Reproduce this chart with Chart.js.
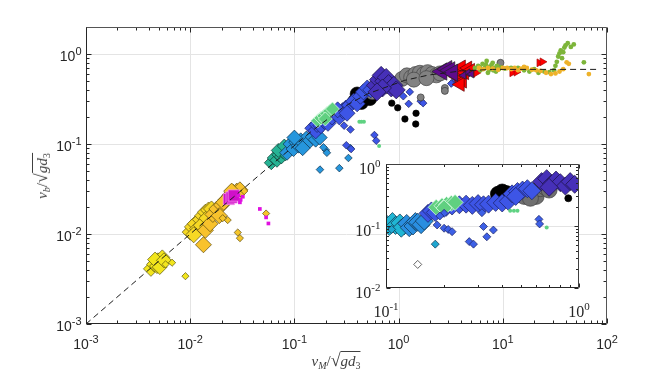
<!DOCTYPE html>
<html>
<head>
<meta charset="utf-8">
<script src="https://cdn.jsdelivr.net/npm/chart.js@4.4.1/dist/chart.umd.min.js"></script>
<style>
  body { margin: 0; background: #fff; }
  #wrap { position: relative; width: 664px; height: 374px; overflow: hidden; }
  #mainChart { position: absolute; left: 0; top: 0; }
  #insetChart { position: absolute; left: 330px; top: 150px; }
  .axlab { position: absolute; font-family: "Liberation Serif", serif; font-size: 15px; color: #404040; white-space: nowrap; line-height: 1; }
  .axlab sub { font-size: 10px; vertical-align: -3px; line-height: 0; }
  .sq { font-size: 18px; font-style: normal; }
  .ov { border-top: 1px solid #404040; padding-top: 2px; display: inline-block; line-height: 1; }
  #xlab { left: 336px; top: 360px; transform: translate(-50%, -50%); }
  #ylab { left: 41px; top: 176px; transform: translate(-50%, -50%) rotate(-90deg); }
</style>
</head>
<body>
<div id="wrap">
  <canvas id="mainChart" width="664" height="374"></canvas>
  <canvas id="insetChart" width="270" height="180"></canvas>
  <div id="xlab" class="axlab"><i>v</i><sub><i>M</i></sub>/<span class="sq">√</span><span class="ov"><i>gd</i><sub>3</sub></span></div>
  <div id="ylab" class="axlab"><i>v</i><sub><i>b</i></sub>/<span class="sq">√</span><span class="ov"><i>gd</i><sub>3</sub></span></div>
</div>
<script>
// ---- main plot data (x = vM/sqrt(g d3), y = vb/sqrt(g d3)) ----
const curveX = [0.001, 0.01, 0.05, 0.144, 0.3, 0.5, 1.14, 1.94, 4, 8, 80];
const curveY = [0.001, 0.01, 0.049, 0.137, 0.26, 0.36, 0.51, 0.585, 0.65, 0.676, 0.676];

const yellowBig = [[0.0042,0.0041],[0.0045,0.0046],[0.0048,0.0044],[0.0049,0.0051],[0.0052,0.0049],[0.0054,0.0055],[0.0046,0.0052],[0.0051,0.0043],[0.0056,0.0051]];
const yellowSmall = [[0.0067,0.0048],[0.0090,0.0034],[0.0058,0.0046]];
const lemonBig = [[0.0100,0.0105],[0.0105,0.0120],[0.0112,0.0130],[0.0118,0.0115],[0.0125,0.0145],[0.0132,0.0160],[0.0140,0.0175],[0.0150,0.0185],[0.0108,0.0098],[0.0128,0.0125],[0.0145,0.0150],[0.0160,0.0190]];
const goldBig = [[0.0134,0.0076],[0.0140,0.0110],[0.0155,0.0130],[0.0165,0.0165],[0.0180,0.0190],[0.0200,0.0210],[0.0220,0.0240],[0.0240,0.0270],[0.0260,0.0290],[0.0280,0.0300],[0.0300,0.0310],[0.0250,0.0300],[0.0190,0.0160],[0.0210,0.0225]];
const goldSmall = [[0.0229,0.0143],[0.0286,0.0104],[0.0300,0.0090],[0.0535,0.0169],[0.0205,0.0150],[0.0310,0.0280],[0.0330,0.0300]];
const magentaBig = [[0.0235,0.0245],[0.0250,0.0255],[0.0262,0.0268]];
const magentaSmall = [[0.0290,0.0270],[0.0305,0.0240],[0.0320,0.0260],[0.0466,0.0190],[0.0535,0.0153],[0.0563,0.0131],[0.0300,0.0225]];
const tealBig = [[0.060,0.062],[0.064,0.070],[0.068,0.066],[0.071,0.076],[0.075,0.072],[0.078,0.082],[0.082,0.078],[0.086,0.088],[0.090,0.095],[0.094,0.090],[0.070,0.085],[0.080,0.095]];
const cyanBig = [[0.085,0.080],[0.092,0.100],[0.098,0.088],[0.104,0.105],[0.110,0.096],[0.115,0.110],[0.122,0.102],[0.130,0.115],[0.140,0.108],[0.150,0.120],[0.160,0.112],[0.100,0.118],[0.120,0.090],[0.175,0.118]];
const cyanSmall = [[0.176,0.052],[0.200,0.086],[0.205,0.080],[0.270,0.054],[0.330,0.070],[0.345,0.090],[0.190,0.092]];
const greenBig = [[0.168,0.182],[0.180,0.195],[0.192,0.205],[0.205,0.218],[0.218,0.232],[0.232,0.245],[0.198,0.190]];
const greenSmall = [[0.420,0.177],[0.440,0.177],[0.465,0.177],[0.650,0.095]];
const blueBig = [[0.150,0.150],[0.160,0.140],[0.165,0.165],[0.180,0.160],[0.195,0.178],[0.210,0.170],[0.230,0.200],[0.250,0.215],[0.270,0.200],[0.290,0.235],[0.310,0.250],[0.340,0.270],[0.370,0.300],[0.400,0.280],[0.430,0.340],[0.460,0.380],[0.500,0.420],[0.540,0.400],[0.260,0.240],[0.320,0.220]];
const blueSmall = [[0.300,0.160],[0.315,0.097],[0.350,0.088],[0.586,0.126],[0.610,0.109],[1.11,0.34],[1.28,0.38],[1.25,0.28],[1.63,0.30],[1.72,0.285],[3.2,0.47],[3.5,0.52],[0.345,0.145]];
const blackBig = [[0.380,0.300],[0.420,0.330],[0.460,0.350],[0.500,0.370],[0.440,0.290],[0.530,0.320],[0.400,0.360]];
const blackSmall = [[0.86,0.285],[0.98,0.253],[1.15,0.190],[1.47,0.220],[1.46,0.167]];
const indigoBig = [[0.600,0.450],[0.640,0.520],[0.680,0.580],[0.720,0.500],[0.760,0.550],[0.800,0.470],[0.850,0.420],[0.900,0.450],[0.950,0.400],[0.700,0.420],[0.620,0.380]];
const grayBig = [[0.560,0.380],[0.660,0.420],[0.760,0.440],[1.08,0.530],[1.20,0.580],[1.32,0.550],[1.45,0.600],[1.60,0.620],[1.75,0.600],[1.90,0.630],[2.10,0.600],[2.30,0.580],[2.50,0.610],[1.40,0.520],[1.85,0.540]];
const graySmall = [[2.78,0.42],[2.78,0.39],[1.63,0.33],[9.5,0.80],[3.9,0.56]];
const purpleTri = [[2.60,0.640],[2.90,0.680],[3.10,0.660],[3.30,0.620]];
const purpleSmall = [[4.6,0.62],[5.0,0.60],[4.2,0.58]];
const redTri = [[3.60,0.560],[3.80,0.640],[4.00,0.720],[4.30,0.620],[4.60,0.700],[4.10,0.500],[4.90,0.660],[3.90,0.460]];
const redSmall = [[5.6,0.62],[12.3,0.62],[13.5,0.63],[22.4,0.80],[24.0,0.82]];
const greenDots = [[5.4,0.70],[5.8,0.74],[6.1,0.66],[6.4,0.78],[6.7,0.70],[7.0,0.84],[7.2,0.62],[7.5,0.72],[7.8,0.76],[8.1,0.66],[8.4,0.70],[8.8,0.74],[9.2,0.68],[9.6,0.71],[6.0,0.72],[6.9,0.76],[7.4,0.67],[8.0,0.80],[8.6,0.64],[10.5,0.69],[12,0.70],[14,0.70],[16,0.66],[18,0.64],[20,0.68],[22,0.62],[25,0.64],[28,0.63],[31,0.66],[32,0.74],[33,0.82],[34,0.94],[35,1.02],[36,1.10],[38,1.05],[39,1.18],[40,1.25],[42,1.32],[45,1.20],[48,1.28],[37,0.90],[60,0.81]];
const goldDots = [[5.9,0.70],[6.5,0.68],[7.2,0.70],[8,0.69],[9,0.67],[10,0.70],[11,0.70],[12,0.68],[13,0.70],[15,0.69],[17,0.70],[19,0.67],[21,0.66],[23,0.65],[26,0.62],[29,0.60],[32,0.61],[35,0.64],[38,0.68],[41,0.81],[43,0.78],[67,0.60],[14,0.66],[16,0.72]];

// ---- inset data (zoom on 0.1 < x < 1) ----
const insetCyan = [[0.100,0.110],[0.104,0.098],[0.108,0.118],[0.112,0.102],[0.118,0.112],[0.124,0.100],[0.120,0.092]];
const insetAzure = [[0.128,0.110],[0.132,0.094],[0.138,0.100],[0.142,0.118],[0.146,0.115],[0.152,0.105],[0.158,0.120]];
const insetBlue = [[0.165,0.160],[0.172,0.175],[0.180,0.165],[0.205,0.200],[0.220,0.210],[0.240,0.220],[0.260,0.225],[0.280,0.215],[0.300,0.230],[0.320,0.220],[0.340,0.225],[0.370,0.240],[0.400,0.235],[0.430,0.250],[0.450,0.330],[0.480,0.360],[0.510,0.380],[0.540,0.400],[0.570,0.370],[0.470,0.300]];
const insetIndigo = [[0.640,0.520],[0.680,0.580],[0.720,0.480],[0.760,0.550],[0.800,0.500],[0.850,0.440],[0.900,0.520],[0.950,0.470],[0.700,0.420]];
const insetGray = [[0.490,0.320],[0.520,0.300],[0.550,0.340],[0.580,0.360],[0.600,0.300],[0.630,0.400],[0.670,0.420],[0.700,0.380],[0.560,0.280]];
const insetBlack = [[0.380,0.330],[0.400,0.360],[0.420,0.340],[0.440,0.310]];
const insetBlackSmall = [[0.880,0.280]];
const insetGreen = [[0.182,0.200],[0.195,0.212],[0.206,0.222],[0.218,0.232],[0.228,0.240],[0.200,0.195]];
const insetGreenSmall = [[0.440,0.176],[0.460,0.176],[0.480,0.176],[0.680,0.095]];
const insetBlueSmall = [[0.184,0.104],[0.200,0.092],[0.210,0.088],[0.220,0.081],[0.270,0.056],[0.284,0.051],[0.314,0.164],[0.320,0.098],[0.360,0.086],[0.333,0.067],[0.620,0.128],[0.625,0.108],[0.200,0.160],[0.190,0.145]];
const insetCyanSmall = [[0.180,0.051],[0.107,0.088]];
const insetHollow = [[0.146,0.024]];

const mainXRange = [0.001, 100], mainYRange = [0.001, 2];
const insetXRange = [0.1, 1], insetYRange = [0.01, 1];

const pts = arr => arr.map(p => ({ x: p[0], y: p[1] }));

function series(arr, style, r, fill, edge, extra) {
  return Object.assign({
    data: pts(arr), pointStyle: style, pointRadius: r, pointHoverRadius: r,
    backgroundColor: fill, borderColor: edge || '#222', borderWidth: 0.7
  }, extra || {});
}

function logTicks(min, max) {
  const out = [];
  for (let d = Math.floor(Math.log10(min)); d <= Math.ceil(Math.log10(max)); d++) {
    for (let m = 1; m <= 9; m++) {
      const v = m * Math.pow(10, d);
      if (v >= min * 0.9999 && v <= max * 1.0001) out.push({ v, major: m === 1, exp: d });
    }
  }
  return out;
}

function powLabel(ctx, exp, px, py, align, f) {
  const base = '10', sup = String(exp);
  ctx.font = f.base; const wb = ctx.measureText(base).width;
  ctx.font = f.sup; const ws = ctx.measureText(sup).width;
  const x0 = align === 'right' ? px - wb - ws : px - (wb + ws) / 2;
  ctx.textAlign = 'left';
  ctx.textBaseline = 'alphabetic';
  ctx.fillStyle = f.color;
  ctx.font = f.base; ctx.fillText(base, x0, py);
  ctx.font = f.sup; ctx.fillText(sup, x0 + wb, py - f.raise);
}

// grid, inward log ticks, box and 10^n labels in MATLAB style
function axesPlugin(o) {
  return {
    id: 'axesDeco',
    beforeDatasetsDraw(chart) {
      const { ctx, chartArea: a, scales: { x, y } } = chart;
      ctx.save();
      if (o.fill) { ctx.fillStyle = '#fff'; ctx.fillRect(a.left, a.top, a.right - a.left, a.bottom - a.top); }
      ctx.strokeStyle = '#e4e4e4';
      ctx.lineWidth = 1;
      ctx.beginPath();
      logTicks(x.min, x.max).filter(t => t.major).forEach(t => {
        const px = Math.round(x.getPixelForValue(t.v)) + 0.5;
        if (px > a.left + 2 && px < a.right - 2) { ctx.moveTo(px, a.top); ctx.lineTo(px, a.bottom); }
      });
      logTicks(y.min, y.max).filter(t => t.major).forEach(t => {
        const py = Math.round(y.getPixelForValue(t.v)) + 0.5;
        if (py > a.top + 2 && py < a.bottom - 2) { ctx.moveTo(a.left, py); ctx.lineTo(a.right, py); }
      });
      ctx.stroke();
      ctx.restore();
    },
    afterDatasetsDraw(chart) {
      const { ctx, chartArea: a, scales: { x, y } } = chart;
      const L = Math.round(a.left) + 0.5, R = Math.round(a.right) - 0.5;
      const T = Math.round(a.top) + 0.5, B = Math.round(a.bottom) - 0.5;
      ctx.save();
      ctx.lineWidth = 1;
      ctx.strokeStyle = o.tickColor;
      ctx.beginPath();
      logTicks(x.min, x.max).forEach(t => {
        const px = Math.round(x.getPixelForValue(t.v)) + 0.5;
        const len = t.major ? o.major : o.minor;
        ctx.moveTo(px, B); ctx.lineTo(px, B - len);
        ctx.moveTo(px, T); ctx.lineTo(px, T + len);
      });
      logTicks(y.min, y.max).forEach(t => {
        const py = Math.round(y.getPixelForValue(t.v)) + 0.5;
        const len = t.major ? o.major : o.minor;
        ctx.moveTo(L, py); ctx.lineTo(L + len, py);
        ctx.moveTo(R, py); ctx.lineTo(R - len, py);
      });
      ctx.stroke();
      ctx.beginPath();
      ctx.strokeStyle = o.boxFar;
      ctx.moveTo(L, T); ctx.lineTo(R, T); ctx.lineTo(R, B);
      ctx.stroke();
      ctx.beginPath();
      ctx.strokeStyle = o.boxNear;
      ctx.moveTo(L, T); ctx.lineTo(L, B); ctx.lineTo(R, B);
      ctx.stroke();
      logTicks(x.min, x.max).filter(t => t.major).forEach(t => {
        powLabel(ctx, t.exp, x.getPixelForValue(t.v) + o.xShift, B + o.xBase, 'center', o.font);
      });
      logTicks(y.min, y.max).filter(t => t.major).forEach(t => {
        powLabel(ctx, t.exp, L - o.yGap, y.getPixelForValue(t.v) + o.yBase, 'right', o.font);
      });
      ctx.restore();
    }
  };
}

function logScales(xr, yr) {
  return {
    x: { type: 'logarithmic', min: xr[0], max: xr[1], display: false },
    y: { type: 'logarithmic', min: yr[0], max: yr[1], display: false }
  };
}

const base = {
  responsive: false, animation: false, devicePixelRatio: 1,
  plugins: { legend: { display: false }, tooltip: { enabled: false } },
  events: []
};

const triLeft = { rotation: -90 };
const triRight = { rotation: 90 };

// first dataset in the list is painted last (on top)
new Chart(document.getElementById('mainChart'), {
  type: 'scatter',
  data: {
    datasets: [
      { data: curveX.map((v, i) => ({ x: v, y: curveY[i] })), showLine: true, borderColor: '#1a1a1a',
        borderWidth: 1, borderDash: [6, 4], pointRadius: 0, fill: false },
      series(goldDots, 'circle', 2.4, '#eeb22a', '#eeb22a', { borderWidth: 0 }),
      series(greenDots, 'circle', 2.4, '#7db53a', '#7db53a', { borderWidth: 0 }),
      series(redSmall, 'triangle', 4.5, '#ff0000', '#aa0000', triRight),
      series(purpleSmall, 'triangle', 4.5, '#5e0a8c', '#222', triLeft),
      series(purpleTri, 'triangle', 10, '#5e0a8c', '#222', triLeft),
      series(redTri, 'triangle', 8, '#ff0000', '#600000', triLeft),
      series(graySmall, 'circle', 3.5, '#808080', '#3a3a3a'),
      series(blackSmall, 'circle', 3.2, '#000', '#000'),
      series(blueSmall, 'rectRot', 3.8, '#3d55e6', '#1a2060'),
      series(greenSmall, 'circle', 2, '#5fd282', '#5fd282', { borderWidth: 0 }),
      series(greenBig, 'rectRot', 7, '#60d080', '#e8fff0'),
      series(indigoBig, 'rectRot', 9, '#4630b8', '#1a1040'),
      series(blueBig, 'rectRot', 8, '#3d55e6', '#1a2060'),
      series(grayBig, 'circle', 7.5, '#828282', '#454545'),
      series(blackBig, 'circle', 7, '#000', '#000'),
      series(cyanSmall, 'rectRot', 3.8, '#2696dd', '#10304a'),
      series(cyanBig, 'rectRot', 7.5, '#2696dd', '#10304a'),
      series(tealBig, 'rectRot', 7, '#26b394', '#103a30'),
      series(magentaSmall, 'rect', 2.6, '#e010e0', '#e010e0', { borderWidth: 0 }),
      series(magentaBig, 'rect', 8, '#d010c8', '#f8a0f0'),
      series(goldSmall, 'rectRot', 3.6, '#f5c52a', '#5a4a10'),
      series(goldBig, 'rectRot', 8, '#f8c22c', '#5a4a10'),
      series(lemonBig, 'rectRot', 8, '#f6d824', '#5a5010'),
      series(yellowSmall, 'rectRot', 3.6, '#f2e51c', '#5a5510'),
      series(yellowBig, 'rectRot', 7.5, '#f2e51c', '#5a5510')
    ]
  },
  options: Object.assign({}, base, {
    layout: { padding: { left: 86, right: 57, top: 27, bottom: 50 } },
    scales: logScales(mainXRange, mainYRange)
  }),
  plugins: [axesPlugin({
    fill: false, major: 5, minor: 3, tickColor: '#262626', boxNear: '#262626', boxFar: '#555',
    xBase: 25, xShift: 0, yGap: 5, yBase: 7,
    font: { base: '14px "Liberation Sans", Arial, sans-serif', sup: '11px "Liberation Sans", Arial, sans-serif', raise: 6, color: '#262626' }
  })]
});

new Chart(document.getElementById('insetChart'), {
  type: 'scatter',
  data: {
    datasets: [
      series(insetBlackSmall, 'circle', 3.5, '#000', '#000'),
      series(insetGreenSmall, 'circle', 2, '#5fd282', '#5fd282', { borderWidth: 0 }),
      series(insetBlueSmall, 'rectRot', 4, '#3d60e6', '#1a2060'),
      series(insetCyanSmall, 'rectRot', 4, '#1ea6d0', '#10304a'),
      series(insetGreen, 'rectRot', 8, '#60d080', '#e8fff0'),
      series(insetIndigo, 'rectRot', 9, '#4630b8', '#1a1040'),
      series(insetBlue, 'rectRot', 9, '#3d55e6', '#1a2060'),
      series(insetGray, 'circle', 8, '#707070', '#404040'),
      series(insetBlack, 'circle', 7.5, '#000', '#000'),
      series(insetAzure, 'rectRot', 9, '#2a8ee0', '#10304a'),
      series(insetCyan, 'rectRot', 9, '#20b6d4', '#10304a'),
      series(insetHollow, 'rectRot', 4, '#ffffff', '#222')
    ]
  },
  options: Object.assign({}, base, {
    layout: { padding: { left: 56, right: 21, top: 14, bottom: 42 } },
    scales: logScales(insetXRange, insetYRange)
  }),
  plugins: [axesPlugin({
    fill: true, major: 4, minor: 2.5, tickColor: '#262626', boxNear: '#262626', boxFar: '#404040',
    xBase: 29, xShift: 0, yGap: 6, yBase: 10,
    font: { base: '16px "Liberation Serif", serif', sup: '11px "Liberation Serif", serif', raise: 7, color: '#262626' }
  })]
});
</script>
</body>
</html>
